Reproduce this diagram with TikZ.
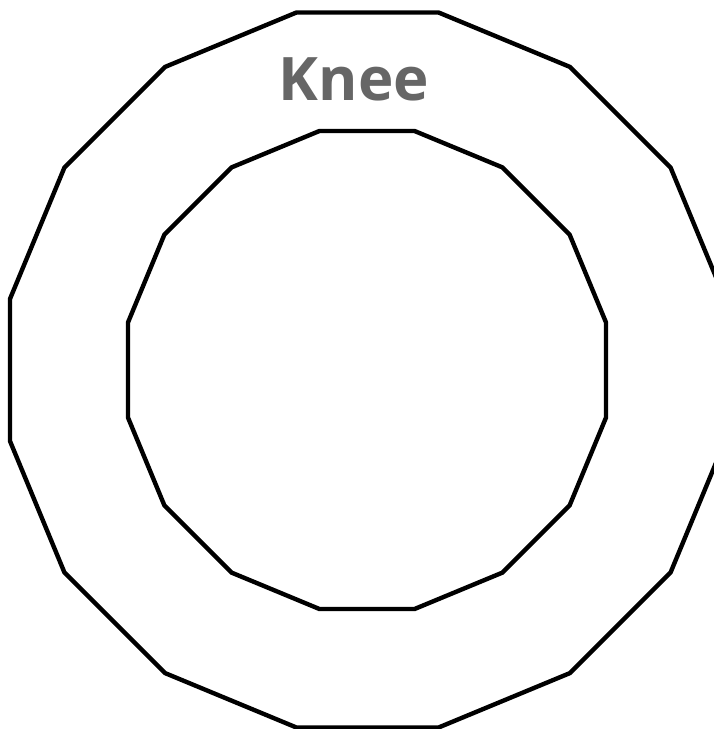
\documentclass[tikz,border=0pt]{standalone}
\usepackage{fontspec}
\setmainfont{Open Sans}
\usetikzlibrary{positioning}

\definecolor{labelgray}{HTML}{666666}

\begin{document}
\begin{tikzpicture}[x=0.5pt, y=-0.5pt, ring/.style={line width=2.2pt, black}]
	\useasboundingbox (0,0) rectangle (713,729);
	% outer and inner 16-gons
	\draw[ring, shift={(367.5,370)}] (11.25:364.5) \foreach \k in {1,...,15} { -- ({11.25+22.5*\k}:364.5) } -- cycle;
	\draw[ring, shift={(367,370)}] (11.25:243.7) \foreach \k in {1,...,15} { -- ({11.25+22.5*\k}:243.7) } -- cycle;
	\node[labelgray, font=\fontsize{30}{30}\selectfont\bfseries, inner sep=0pt, anchor=base] (knee) at (354,100) {Knee};
\end{tikzpicture}
\end{document}
